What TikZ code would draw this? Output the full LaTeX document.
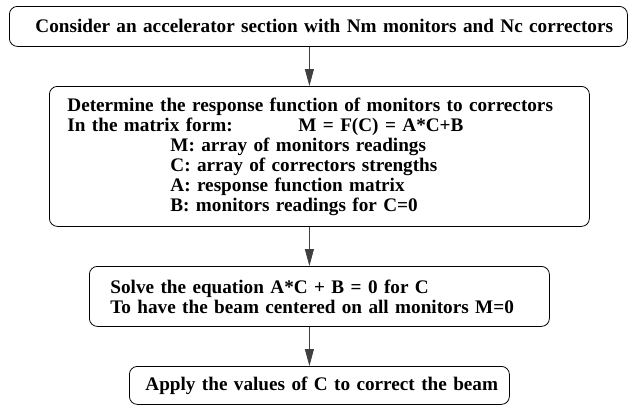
\documentclass[tikz,border=0pt]{standalone}
\usepackage{fontspec}
\setmainfont{Liberation Serif}
\usetikzlibrary{arrows.meta}

\begin{document}
\begin{tikzpicture}[x=1pt, y=-1pt,
    stepbox/.style={draw, rounded corners=8pt, line width=0.8pt, anchor=north west, align=left,
        inner ysep=0pt, font=\fontsize{19.2}{20}\selectfont\bfseries},
    flowarrow/.style={-{Triangle[length=17pt, width=9pt]}, line width=0.8pt, draw=black!75}]
    \useasboundingbox (0,0) rectangle (629,405);

    % Step 1
    \node[stepbox, inner xsep=26pt, text width=566pt, minimum height=40pt] (consider) at (9,6)
        {\mbox{Consider an accelerator section with Nm monitors and Nc correctors}};

    % Step 2
    \node[stepbox, inner xsep=18pt, text width=504pt, minimum height=140pt] (response) at (49,86)
        {Determine the response function of monitors to correctors\\
         \makebox[231pt][l]{In the matrix form:}M = F(C) = A*C+B\\
         \hspace*{103pt}M: array of monitors readings\\
         \hspace*{103pt}C: array of correctors strengths\\
         \hspace*{103pt}A: response function matrix\\
         \hspace*{103pt}B: monitors readings for C=0};

    % Step 3
    \node[stepbox, inner xsep=21pt, text width=418pt, minimum height=60pt] (solve) at (89,266)
        {Solve the equation A*C + B = 0 for C\\
         To have the beam centered on all monitors M=0};

    % Step 4
    \node[stepbox, inner xsep=16pt, text width=348pt, minimum height=38pt] (apply) at (129,366)
        {\mbox{Apply the values of C to correct the beam}};

    % Arrows
    \draw[flowarrow] ([xshift=-9pt]consider.south) -- ([xshift=-10pt]response.north);
    \draw[flowarrow] ([xshift=-10pt]response.south) -- ([xshift=-10pt]solve.north);
    \draw[flowarrow] ([xshift=-10pt]solve.south) -- ([xshift=-10pt]apply.north);
\end{tikzpicture}
\end{document}
